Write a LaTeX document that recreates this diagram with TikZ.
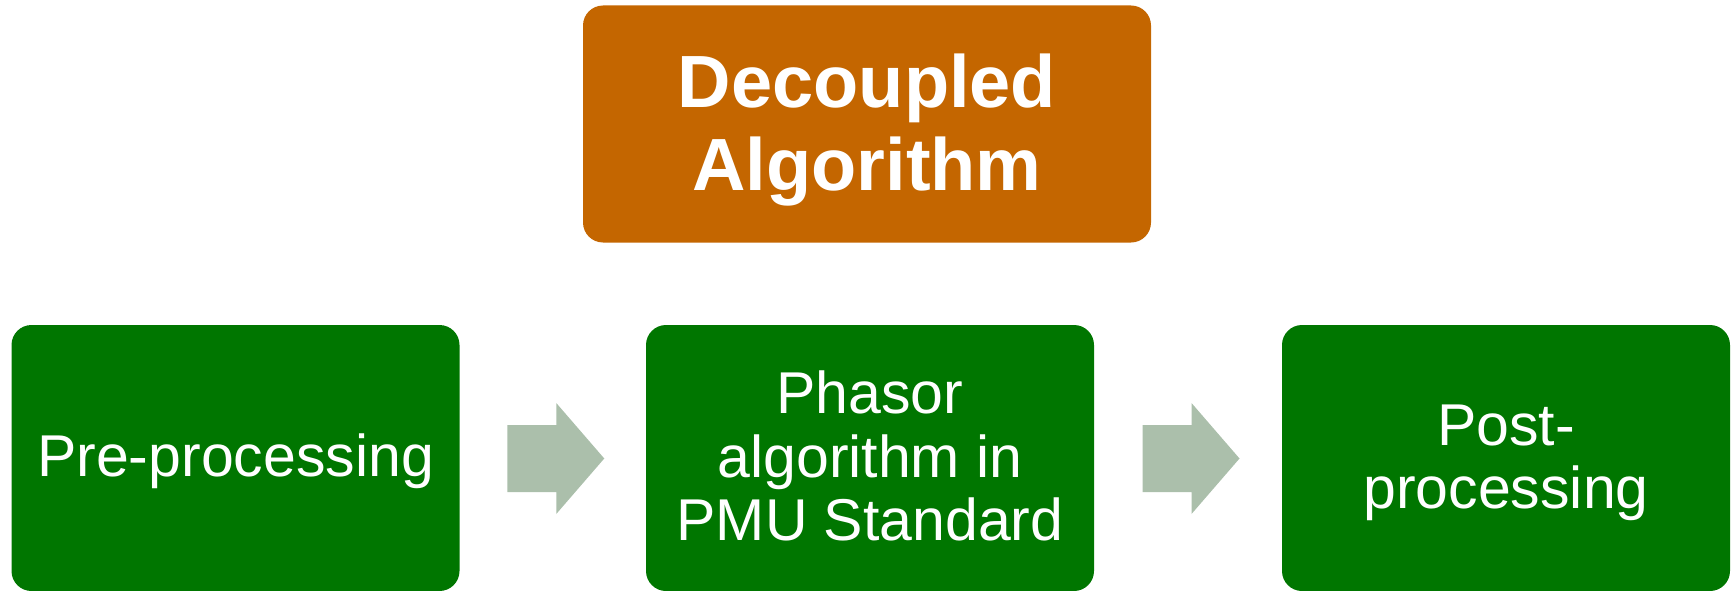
\documentclass[tikz,border=0pt]{standalone}
\usepackage{fontspec}
\setmainfont{Liberation Sans}
\usetikzlibrary{calc}
\definecolor{topfill}{RGB}{196,102,0}
\definecolor{stepfill}{RGB}{0,118,0}
\definecolor{arrowfill}{RGB}{171,191,171}
% line struts: every text line gets the same ascent and descent
\newcommand{\tline}[1]{\rule[-12pt]{0pt}{78pt}#1}
\newcommand{\gline}[1]{\rule[-12pt]{0pt}{62pt}#1}
\tikzset{
  titlebox/.style={fill=topfill, rounded corners=20pt, minimum width=568pt, minimum height=237pt,
    inner sep=0pt, text=white, align=center, font=\bfseries\fontsize{74}{80}\selectfont},
  stagebox/.style={fill=stepfill, rounded corners=20pt, minimum width=448pt, minimum height=266pt,
    inner sep=0pt, text=white, align=center, font=\fontsize{59}{63.5}\selectfont},
  flowarrow/.style={fill=arrowfill}
}
\begin{document}
\begin{tikzpicture}[x=1pt,y=-1pt]
\useasboundingbox (0,0) rectangle (1735,591);
\node[titlebox] (title) at (867,124) {\tline{Decoupled}\\\tline{Algorithm}};
\node[stagebox] (pre) at (235.5,458) {\gline{Pre-processing}};
\node[stagebox] (pha) at (870,458) {\gline{Phasor}\\\gline{algorithm in}\\\gline{PMU Standard}};
\node[stagebox] (post) at (1506,458) {\gline{Post-}\\\gline{processing}};
% block arrows between the stages
\foreach \a/\b/\n in {pre/pha/m1, pha/post/m2}{
  \coordinate (\n) at ($(\a.east)!0.5!(\b.west)+(3,0.5)$);
  \fill[flowarrow] ($(\n)+(-48.5,-33.5)$) -- ($(\n)+(0.5,-33.5)$) -- ($(\n)+(0.5,-55.5)$)
    -- ($(\n)+(48.5,0)$) -- ($(\n)+(0.5,55.5)$) -- ($(\n)+(0.5,33.5)$) -- ($(\n)+(-48.5,33.5)$) -- cycle;
}
\end{tikzpicture}
\end{document}
